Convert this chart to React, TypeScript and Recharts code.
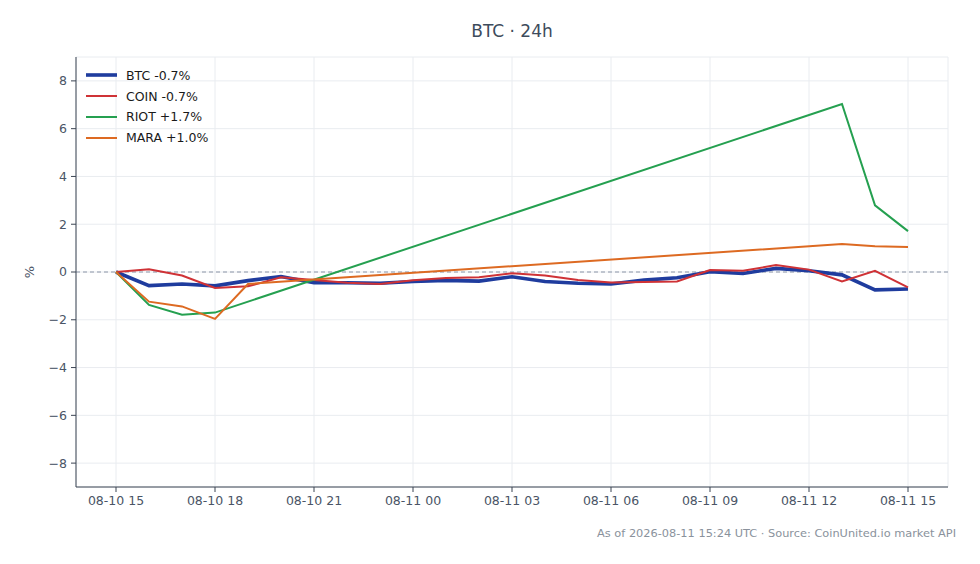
import React from 'react';
import { LineChart, Line, XAxis, YAxis, CartesianGrid, ReferenceLine } from 'recharts';

const hours = [0, 1, 2, 3, 4, 5, 6, 7, 8, 9, 10, 11, 12, 13, 14, 15, 16, 17, 18, 19, 20, 21, 22, 23, 24];
const btc = [0, -0.57, -0.5, -0.58, -0.36, -0.19, -0.45, -0.45, -0.47, -0.4, -0.35, -0.38, -0.2, -0.4, -0.47, -0.5, -0.34, -0.24, 0.01, -0.06, 0.15, 0.05, -0.12, -0.75, -0.71];
const coin = [0, 0.11, -0.15, -0.67, -0.6, -0.22, -0.33, -0.45, -0.5, -0.35, -0.25, -0.22, -0.05, -0.15, -0.33, -0.44, -0.42, -0.4, 0.08, 0.05, 0.29, 0.1, -0.4, 0.05, -0.64];
const riot = [0, -1.38, -1.79, -1.7, null, null, null, null, null, null, null, null, null, null, null, null, null, null, null, null, null, null, 7.03, 2.79, 1.71];
const mara = [0, -1.24, -1.44, -1.96, -0.5, null, null, null, null, null, null, null, null, null, null, null, null, null, null, null, null, null, 1.17, 1.08, 1.05];

const xTicks = [0, 3, 6, 9, 12, 15, 18, 21, 24];
const xTickLabels = ['08-10 15', '08-10 18', '08-10 21', '08-11 00', '08-11 03', '08-11 06', '08-11 09', '08-11 12', '08-11 15'];
const yTicks = [-8, -6, -4, -2, 0, 2, 4, 6, 8];

const seriesKeys = ['btc', 'coin', 'riot', 'mara'];
const seriesNames = ['BTC -0.7%', 'COIN -0.7%', 'RIOT +1.7%', 'MARA +1.0%'];
const seriesColors = ['#1f3c9e', '#cf3236', '#25a050', '#dd6a22'];
const seriesWidths = [3.6, 2, 2, 2];

const data = hours.map((h, i) => ({ h, btc: btc[i], coin: coin[i], riot: riot[i], mara: mara[i] }));

const FONT = '"DejaVu Sans", sans-serif';
const TICK_COLOR = '#4a5566';
const AXIS_COLOR = '#3b4452';

const LegendBox = () => (
  <div style={{ position: 'absolute', left: 86, top: 65, fontFamily: FONT, fontSize: 12.5, color: '#1a1a1a' }}>
    {seriesNames.map((n, i) => (
      <div key={n} style={{ display: 'flex', alignItems: 'center', height: 20.8, whiteSpace: 'nowrap' }}>
        <svg width={31} height={8} style={{ marginRight: 9 }}>
          <line x1={0} x2={31} y1={4} y2={4} stroke={seriesColors[i]} strokeWidth={seriesWidths[i]} />
        </svg>
        <span>{n}</span>
      </div>
    ))}
  </div>
);

const fmtY = (v: number) => (v < 0 ? '\u2212' + Math.abs(v) : String(v));
const fmtX = (v: number) => xTickLabels[xTicks.indexOf(v)] ?? '';

export default function App() {
  return (
    <div style={{ position: 'absolute', left: 0, top: 0, width: 980, height: 564, background: '#fff', fontFamily: FONT }}>
      <LineChart width={980} height={564} data={data} margin={{ top: 57, right: 32, bottom: 47, left: 16 }} style={{ position: 'absolute', left: 0, top: 0 }}>
        <CartesianGrid stroke="#e9ecf0" strokeWidth={1} />
        <XAxis
          type="number"
          dataKey="h"
          domain={[-40 / 33, 24 + 40 / 33]}
          ticks={xTicks}
          tickFormatter={fmtX}
          allowDataOverflow
          height={30}
          stroke={AXIS_COLOR}
          tickSize={5}
          tickMargin={4}
          tick={{ fill: TICK_COLOR, fontSize: 12.5, fontFamily: FONT }}
        />
        <YAxis
          type="number"
          domain={[-9, 9]}
          ticks={yTicks}
          tickFormatter={fmtY}
          allowDataOverflow
          width={60}
          stroke={AXIS_COLOR}
          tickSize={5}
          tickMargin={4}
          tick={{ fill: TICK_COLOR, fontSize: 12.5, fontFamily: FONT }}
        />
        <ReferenceLine y={0} stroke="#8c96a8" strokeDasharray="4 3" strokeWidth={1} />
        {seriesKeys.map((k, i) => (
          <Line
            key={k}
            dataKey={k}
            name={seriesNames[i]}
            stroke={seriesColors[i]}
            strokeWidth={seriesWidths[i]}
            dot={false}
            activeDot={false}
            connectNulls
            type="linear"
            isAnimationActive={false}
          />
        ))}
      </LineChart>
      <div style={{ position: 'absolute', left: 312, width: 400, top: 20, textAlign: 'center', fontSize: 17, color: '#3d4b5c', lineHeight: '22px' }}>
        BTC · 24h
      </div>
      <div style={{ position: 'absolute', left: 24, top: 264, fontSize: 13, color: TICK_COLOR, transform: 'rotate(-90deg)', lineHeight: '16px' }}>
        %
      </div>
      <div style={{ position: 'absolute', right: 24, top: 526, fontSize: 11.35, color: '#8a929c', lineHeight: '14px', whiteSpace: 'nowrap' }}>
        As of 2026-08-11 15:24 UTC · Source: CoinUnited.io market API
      </div>
      <LegendBox />
    </div>
  );
}
